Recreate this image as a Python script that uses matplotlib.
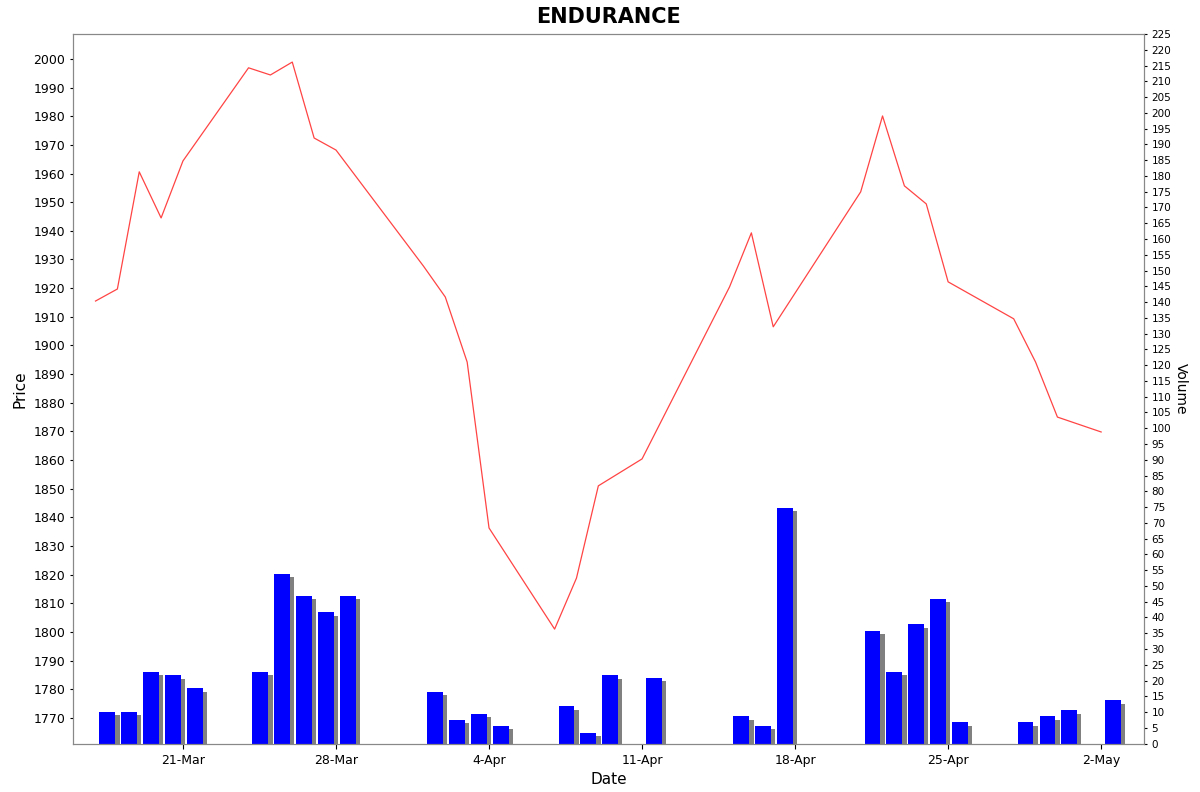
import matplotlib
matplotlib.use("Agg")
import matplotlib.pyplot as plt
import numpy as np
import datetime as dt
import matplotlib.dates as mdates

dates = ["2025-03-17","2025-03-18","2025-03-19","2025-03-20","2025-03-21",
         "2025-03-24","2025-03-25","2025-03-26","2025-03-27","2025-03-28",
         "2025-04-01","2025-04-02","2025-04-03","2025-04-04",
         "2025-04-07","2025-04-08","2025-04-09","2025-04-11",
         "2025-04-15","2025-04-16","2025-04-17",
         "2025-04-21","2025-04-22","2025-04-23","2025-04-24","2025-04-25",
         "2025-04-28","2025-04-29","2025-04-30","2025-05-02"]
price = [1915.5,1919.7,1960.6,1944.5,1964.4,
         1996.9,1994.4,1998.9,1972.4,1968.2,
         1927.7,1916.9,1894.2,1836.3,
         1801.0,1818.8,1851.0,1860.4,
         1920.4,1939.3,1906.5,
         1953.6,1980.1,1955.7,1949.4,1922.2,
         1909.3,1894.2,1875.0,1869.8]
volume = [10,10,22.6,21.6,17.5,
          22.6,53.7,46.7,41.6,46.7,
          16.5,7.6,9.5,5.7,
          11.8,3.5,21.6,20.7,
          8.6,5.7,74.7,
          35.6,22.6,37.8,45.8,6.7,
          6.7,8.6,10.5,13.7]
tick_dates = ["2025-03-21","2025-03-28","2025-04-04","2025-04-11","2025-04-18","2025-04-25","2025-05-02"]
tick_labels = ["21-Mar","28-Mar","4-Apr","11-Apr","18-Apr","25-Apr","2-May"]

x = mdates.datestr2num(dates)
xt = mdates.datestr2num(tick_dates)

fig = plt.figure(figsize=(12, 7.92), dpi=100)
ax = fig.add_axes([73/1200, 1-744/792, (1144-73)/1200, (744-34)/792])
ax2 = ax.twinx()
ax.set_zorder(ax2.get_zorder()+1)
ax.patch.set_visible(False)

# volume bars with shadow
w = 0.8
xb = x + 0.5
ax2.bar(xb + 0.2, np.array(volume) - 1.0, width=w, bottom=0, color="#808080", zorder=1)
ax2.bar(xb, volume, width=w, color="#0000ff", edgecolor="none", zorder=2)
ax2.bar(xb - w/2 + 0.04, volume, width=0.08, color="white", zorder=3)
ax2.set_ylim(-0.13, 225)
ax2.set_yticks(np.arange(0, 226, 5))
ax2.tick_params(axis="y", labelsize=7.5, length=2)
ax2.set_ylabel("Volume", rotation=270, labelpad=12, fontsize=10)

ax.plot(x, price, color="#ff4444", lw=0.9)
ax.set_ylim(1760.9, 2008.7)
ax.set_yticks(np.arange(1770, 2001, 10))
ax.tick_params(axis="y", labelsize=9, length=2)
ax.set_ylabel("Price", fontsize=11)
ax.set_xlim(mdates.datestr2num("2025-03-21") - 5.03, mdates.datestr2num("2025-03-21") + 43.96)
ax.set_xticks(xt)
ax.set_xticklabels(tick_labels, fontsize=9)
ax.set_xlabel("Date", fontsize=11)
for a in (ax, ax2):
    for s in a.spines.values():
        s.set_color("#888888")
ax.set_title("ENDURANCE", fontsize=15, fontweight="bold", pad=8)
fig.savefig("out.png", dpi=100)
